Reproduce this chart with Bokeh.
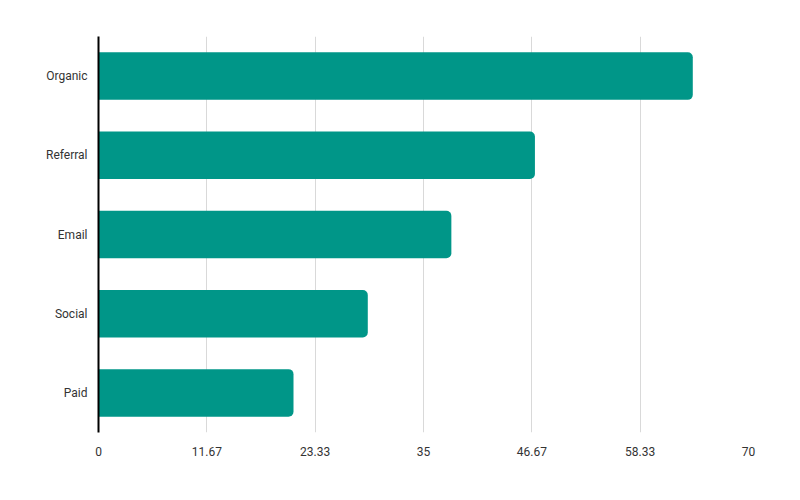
from bokeh.plotting import figure
from bokeh.models import FactorRange, Range1d, FixedTicker
from bokeh.embed import file_html
from bokeh.resources import INLINE

# traffic sources and their values
channels = ["Organic", "Referral", "Email", "Social", "Paid"]
visits = [64, 47, 38, 29, 21]

tick_values = [0, 11.67, 23.33, 35, 46.67, 58.33, 70]
tick_labels = ["0", "11.67", "23.33", "35", "46.67", "58.33", "70"]

p = figure(width=784, height=484, y_range=FactorRange(*reversed(channels)),
           x_range=Range1d(0, 70), output_backend="svg", toolbar_location=None,
           tools="")
p.min_border_left = 98
p.min_border_right = 36
p.min_border_top = 36
p.min_border_bottom = 52
p.outline_line_color = None

p.hbar(y=channels, right=visits, left=0, height=0.6, fill_color="#009688",
       line_color=None, border_radius=(0, 5, 5, 0))

# x axis
p.xaxis.ticker = FixedTicker(ticks=tick_values)
p.xaxis.major_label_overrides = {v: l for v, l in zip(tick_values, tick_labels)}
p.xaxis.axis_line_color = None
p.xaxis.major_tick_line_color = None
p.xaxis.minor_tick_line_color = None
p.xaxis.major_label_standoff = 8
p.xaxis.major_label_text_font = "Roboto"
p.xaxis.major_label_text_font_size = "12px"
p.xaxis.major_label_text_color = "#333333"

# y axis
p.yaxis.axis_line_color = "black"
p.yaxis.axis_line_width = 2
p.yaxis.major_tick_line_color = None
p.yaxis.minor_tick_line_color = None
p.yaxis.major_label_standoff = 5
p.yaxis.major_label_text_font = "Roboto"
p.yaxis.major_label_text_font_size = "12px"
p.yaxis.major_label_text_color = "#333333"

# grid
p.ygrid.grid_line_color = None
p.xgrid.ticker = FixedTicker(ticks=tick_values[1:-1])
p.xgrid.grid_line_color = "#d9d9d9"
p.xgrid.grid_line_width = 1

open("out.html", "w").write(file_html(p, INLINE))
